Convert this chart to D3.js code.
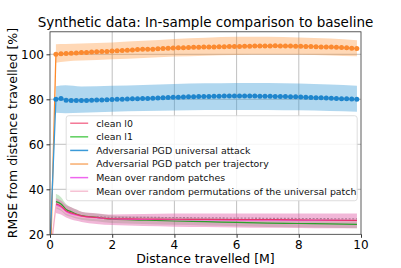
<!DOCTYPE html>
<html>
<head>
<meta charset="utf-8">
<script src="https://cdn.jsdelivr.net/npm/d3@7"></script>
<style>
  body { margin: 0; background: #fff; }
  text { font-family: "DejaVu Sans", sans-serif; }
</style>
</head>
<body>
<div id="chart"></div>
<script>
// ---- data ----
const xs = [0, 0.19, 0.354, 0.518, 0.682, 0.846, 1.01, 1.174, 1.338, 1.502, 1.666, 1.83, 1.994,
  2.158, 2.322, 2.486, 2.65, 2.814, 2.978, 3.142, 3.306, 3.47, 3.634, 3.798, 3.962, 4.126, 4.29,
  4.454, 4.618, 4.782, 4.946, 5.11, 5.274, 5.438, 5.602, 5.766, 5.93, 6.094, 6.258, 6.422, 6.586,
  6.75, 6.914, 7.078, 7.242, 7.406, 7.57, 7.734, 7.898, 8.062, 8.226, 8.39, 8.554, 8.718, 8.882,
  9.046, 9.21, 9.374, 9.538, 9.702, 9.866];

const patchTraj = [0, 100.0, 100.2, 100.4, 100.5, 100.6, 100.8, 100.8, 101.0, 101.1, 101.2, 101.3, 101.5,
  101.6, 101.7, 101.8, 101.9, 102.1, 102.2, 102.3, 102.3, 102.5, 102.6, 102.7, 102.8, 102.9, 102.9,
  103.0, 103.1, 103.1, 103.2, 103.2, 103.3, 103.4, 103.4, 103.5, 103.5, 103.5, 103.6, 103.6, 103.7,
  103.7, 103.7, 103.7, 103.8, 103.7, 103.7, 103.7, 103.6, 103.6, 103.5, 103.5, 103.4, 103.3, 103.3,
  103.2, 103.1, 103.0, 102.9, 102.7, 102.6];

const universal = [15, 80.0, 80.4, 79.6, 79.5, 79.5, 79.5, 79.5, 79.6, 79.7, 79.7, 79.8, 79.9,
  80.0, 80.0, 80.1, 80.2, 80.3, 80.4, 80.4, 80.5, 80.6, 80.7, 80.8, 80.9, 80.9, 81.0,
  81.1, 81.1, 81.2, 81.3, 81.3, 81.4, 81.4, 81.5, 81.5, 81.5, 81.5, 81.5, 81.5, 81.5,
  81.4, 81.4, 81.4, 81.3, 81.3, 81.2, 81.1, 81.1, 81.0, 80.9, 80.8, 80.7, 80.7, 80.6,
  80.5, 80.4, 80.3, 80.2, 80.1, 80.0];

// spread bands (coarser grid)
const bandX = [0.19, 0.5, 1, 2, 3, 4, 5, 6, 7, 8, 9, 9.87];
const patchTrajHi = [104.5, 104.6, 104.8, 105.3, 106.0, 106.8, 107.4, 107.8, 107.8, 107.5, 107.0, 106.3];
const patchTrajLo = [96.3, 96.8, 97.2, 97.8, 98.4, 99.0, 99.4, 99.7, 99.8, 99.8, 99.5, 99.1];
const universalHi = [85.8, 86.2, 85.7, 86.0, 86.4, 86.8, 87.1, 87.3, 87.3, 87.0, 86.6, 86.0];
const universalLo = [74.0, 73.8, 74.0, 74.5, 74.8, 75.0, 75.2, 75.3, 75.3, 75.1, 74.8, 74.5];

// low cluster
const lowX = [0.19, 0.354, 0.518, 0.682, 0.846, 1.01, 1.5, 2, 3, 4, 5, 6, 7, 8, 9, 9.87];
const clean0 = [33.5, 32.5, 30.5, 29.5, 28.8, 28.2, 27.5, 26.9, 26.8, 26.7, 26.6, 26.5, 26.5, 26.4, 26.3, 26.2];
const clean1 = [34.5, 33.5, 31.0, 30.0, 29.0, 28.3, 27.5, 26.7, 26.3, 25.9, 25.6, 25.3, 25.0, 24.8, 24.6, 24.4];
const clean1Hi = [38.0, 36.5, 33.5, 32.0, 31.0, 30.0, 29.2, 28.4, 27.9, 27.5, 27.2, 26.9, 26.6, 26.4, 26.2, 26.0];
const clean1Lo = [31.5, 30.5, 28.5, 27.8, 27.0, 26.5, 25.8, 25.0, 24.6, 24.2, 23.9, 23.6, 23.3, 23.1, 22.9, 22.7];
const randPatches = [33.0, 32.0, 30.0, 29.0, 28.5, 28.0, 27.3, 26.8, 26.6, 26.5, 26.4, 26.3, 26.3, 26.2, 26.2, 26.1];
const permX = [0, 0.19, 0.354, 0.518, 0.682, 0.846, 1.01, 1.5, 2, 3, 4, 5, 6, 7, 8, 9, 9.87];
const perm = [10, 32.5, 31.5, 29.5, 28.6, 28.0, 27.5, 27.0, 26.6, 26.6, 26.5, 26.4, 26.3, 26.2, 26.1, 26.0, 26.0];
const permHi = [36.0, 35.0, 33.0, 32.0, 31.0, 30.0, 29.3, 28.8, 29.0, 29.3, 29.3, 29.3, 29.3, 29.3, 29.3, 29.3];
const permLo = [29.5, 28.8, 27.5, 26.6, 26.0, 25.5, 24.6, 24.1, 23.7, 23.4, 23.2, 23.0, 22.9, 22.8, 22.7, 22.7];

const legendLabels = ["clean l0", "clean l1", "Adversarial PGD universal attack",
  "Adversarial PGD patch per trajectory", "Mean over random patches",
  "Mean over random permutations of the universal patch"];
const legendColors = ["#f47a98", "#5ccf5c", "#3a9ad8", "#f8ad6e", "#ee66ee", "#f6c2d4"];

const xTicks = [0, 2, 4, 6, 8, 10];
const yTicks = [20, 40, 60, 80, 100];

// ---- layout ----
const width = 401, height = 268;
const margin = { top: 31.8, right: 40, bottom: 33.7, left: 50 };
const innerWidth = width - margin.left - margin.right;
const innerHeight = height - margin.top - margin.bottom;

const svg = d3.select("#chart").append("svg")
  .attr("width", width).attr("height", height);

const chart = svg.append("g")
  .attr("transform", `translate(${margin.left}, ${margin.top})`);

const x = d3.scaleLinear().domain([0, 10]).range([0, innerWidth]);
const y = d3.scaleLinear().domain([20, 110]).range([innerHeight, 0]);

svg.append("defs").append("clipPath").attr("id", "clip")
  .append("rect").attr("width", innerWidth).attr("height", innerHeight);

// grid
chart.append("g").selectAll("line").data(xTicks.slice(1, -1)).enter().append("line")
  .attr("x1", d => x(d)).attr("x2", d => x(d)).attr("y1", 0).attr("y2", innerHeight)
  .attr("stroke", "#b0b0b0").attr("stroke-width", 0.8);
chart.append("g").selectAll("line").data(yTicks.slice(1)).enter().append("line")
  .attr("y1", d => y(d)).attr("y2", d => y(d)).attr("x1", 0).attr("x2", innerWidth)
  .attr("stroke", "#b0b0b0").attr("stroke-width", 0.8);

const plot = chart.append("g").attr("clip-path", "url(#clip)");

const zip = (xa, ya) => xa.map((v, i) => [v, ya[i]]);
const line = d3.line().x(d => x(d[0])).y(d => y(d[1]));
const smooth = d3.line().x(d => x(d[0])).y(d => y(d[1])).curve(d3.curveMonotoneX);
const area = d3.area().x(d => x(d[0])).y0(d => y(d[1])).y1(d => y(d[2])).curve(d3.curveMonotoneX);
const zip3 = (xa, lo, hi) => xa.map((v, i) => [v, lo[i], hi[i]]);

// bands
plot.append("path").attr("d", area(zip3(bandX, patchTrajLo, patchTrajHi)))
  .attr("fill", "#ff7f0e").attr("fill-opacity", 0.3);
plot.append("path").attr("d", area(zip3(bandX, universalLo, universalHi)))
  .attr("fill", "#3a9ad8").attr("fill-opacity", 0.4);
plot.append("path").attr("d", area(zip3(lowX, clean1Lo, clean1Hi)))
  .attr("fill", "#2ca02c").attr("fill-opacity", 0.25);
plot.append("path").attr("d", area(zip3(lowX, permLo, permHi)))
  .attr("fill", "#e060a8").attr("fill-opacity", 0.45);

// low cluster lines
plot.append("path").attr("d", line(zip(permX, perm)))
  .attr("fill", "none").attr("stroke", "#f6b0c8").attr("stroke-width", 1.4);
plot.append("path").attr("d", smooth(zip(lowX, clean1)))
  .attr("fill", "none").attr("stroke", "#2ca02c").attr("stroke-width", 1.2);
plot.append("path").attr("d", smooth(zip(lowX, randPatches)))
  .attr("fill", "none").attr("stroke", "#ee55ee").attr("stroke-width", 1);
plot.append("path").attr("d", smooth(zip(lowX, clean0)))
  .attr("fill", "none").attr("stroke", "#e8336b").attr("stroke-width", 1.2);
plot.append("path").attr("d", smooth(zip(lowX.slice(6), perm.slice(7).map(v => v + 0.9))))
  .attr("fill", "none").attr("stroke", "#b07a96").attr("stroke-width", 1.3)
  .attr("stroke-dasharray", "2,1.6");

// main lines with markers
const mains = [
  { vals: patchTraj, line: "#ff8a2a", marker: "#fb8a30" },
  { vals: universal, line: "#3a9ad8", marker: "#1f85cc" }
];
mains.forEach(s => {
  plot.append("path").attr("d", line(zip(xs, s.vals)))
    .attr("fill", "none").attr("stroke", s.line).attr("stroke-width", 1.3);
  plot.append("g").selectAll("circle").data(zip(xs, s.vals).slice(1)).enter().append("circle")
    .attr("cx", d => x(d[0])).attr("cy", d => y(d[1])).attr("r", 2.5)
    .attr("fill", s.marker);
});

// frame
chart.append("rect").attr("width", innerWidth).attr("height", innerHeight)
  .attr("fill", "none").attr("stroke", "#333").attr("stroke-width", 0.8);

// axes: tick marks from d3, labels placed with the same scales
const xAxis = chart.append("g").attr("transform", `translate(0, ${innerHeight})`)
  .call(d3.axisBottom(x).tickValues(xTicks).tickSize(3.5).tickFormat(""));
const yAxis = chart.append("g")
  .call(d3.axisLeft(y).tickValues(yTicks).tickSize(3.5).tickFormat(""));
[xAxis, yAxis].forEach(a => {
  a.select(".domain").remove();
  a.selectAll("text").remove();
  a.selectAll("line").attr("stroke", "#333");
});

svg.append("g").selectAll("text").data(xTicks).enter().append("text")
  .attr("x", d => margin.left + x(d))
  .attr("y", margin.top + innerHeight + 15)
  .attr("text-anchor", "middle").attr("font-size", 12).attr("fill", "#000")
  .text(d => d);
svg.append("g").selectAll("text").data(yTicks).enter().append("text")
  .attr("x", margin.left - 6)
  .attr("y", d => margin.top + y(d) + 4.3)
  .attr("text-anchor", "end").attr("font-size", 12).attr("fill", "#000")
  .text(d => d);

// legend
const legX = margin.left + x(0.52), legY = margin.top + y(72.7);
svg.append("rect").attr("x", legX).attr("y", legY).attr("width", 291).attr("height", 85).attr("rx", 2.5)
  .attr("fill", "#fff").attr("fill-opacity", 0.85).attr("stroke", "#d6d6d6").attr("stroke-width", 0.8);
legendLabels.forEach((lab, i) => {
  const gy = legY + 7.5 + i * 13.6;
  svg.append("line").attr("x1", legX + 4).attr("x2", legX + 22).attr("y1", gy).attr("y2", gy)
    .attr("stroke", legendColors[i]).attr("stroke-width", 1.5);
  svg.append("text").attr("x", legX + 30).attr("y", gy + 3.3)
    .attr("font-size", 9.4).attr("fill", "#111").text(lab);
});

// labels
svg.append("text")
  .attr("x", margin.left + innerWidth / 2).attr("y", 27)
  .attr("text-anchor", "middle").attr("font-size", 13.5).text("Synthetic data: In-sample comparison to baseline");
svg.append("text")
  .attr("x", margin.left + innerWidth / 2).attr("y", 263)
  .attr("text-anchor", "middle").attr("font-size", 12.5).text("Distance travelled [M]");
svg.append("text")
  .attr("transform", `translate(17, ${margin.top + innerHeight / 2}) rotate(-90)`)
  .attr("text-anchor", "middle").attr("font-size", 12.5).text("RMSE from distance travelled  [%]");
</script>
</body>
</html>
